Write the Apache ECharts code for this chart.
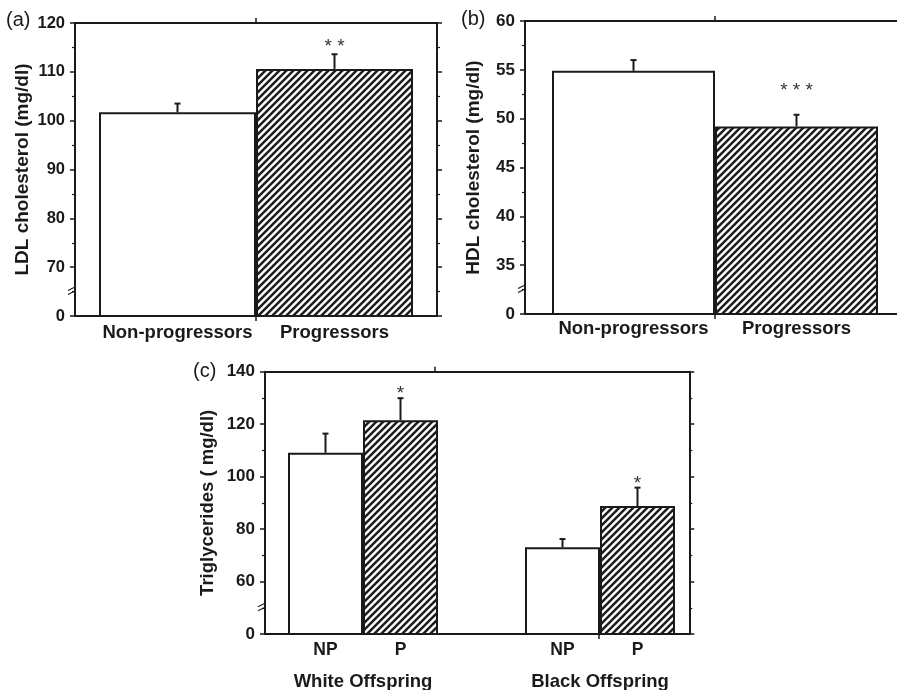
<!DOCTYPE html>
<html>
<head>
<meta charset="utf-8">
<script src="https://cdn.jsdelivr.net/npm/echarts@6/dist/echarts.min.js"></script>
<style>html,body{margin:0;padding:0;background:#fff}#c{width:897px;height:690px}</style>
</head>
<body>
<div id="c"></div>
<script>
// ---------- Panel (a): LDL cholesterol ----------
const groupsA = ['Non-progressors', 'Progressors'];
const meanA = [101.7, 110.6];
const semA = [1.8, 3.0];
const sigA = ['', '**'];
const yTicksA = ['0', '70', '80', '90', '100', '110', '120'];

// ---------- Panel (b): HDL cholesterol ----------
const groupsB = ['Non-progressors', 'Progressors'];
const meanB = [54.9, 49.2];
const semB = [1.1, 1.2];
const sigB = ['', '***'];
const yTicksB = ['0', '35', '40', '45', '50', '55', '60'];

// ---------- Panel (c): Triglycerides ----------
const groupsC = ['White Offspring', 'Black Offspring'];
const subC = ['NP', 'P'];
const npMeanC = [109.1, 73.1];
const npSemC = [7.3, 3.1];
const pMeanC = [121.5, 88.8];
const pSemC = [8.4, 7.0];
const sigC = ['*', '*'];
const yTicksC = ['0', '60', '80', '100', '120', '140'];

// broken-axis scales: the lowest tick stands for 0
const scaleA = {min: 60, max: 120, interval: 10};
const scaleB = {min: 30, max: 60, interval: 5};
const scaleC = {min: 40, max: 140, interval: 20};

const INK = '#1a1a1a';
const FONT = '"Liberation Sans", Arial, Helvetica, sans-serif';

function hatchCanvas() {
  const s = 7;
  const c = document.createElement('canvas');
  c.width = s; c.height = s;
  const g = c.getContext('2d');
  g.fillStyle = '#fff'; g.fillRect(0, 0, s, s);
  g.strokeStyle = '#1e1e1e'; g.lineWidth = 2.5; g.lineCap = 'square';
  g.beginPath();
  for (const o of [-s, 0, s]) { g.moveTo(o, s); g.lineTo(o + s, 0); }
  g.stroke();
  return c;
}
const HATCH = {image: hatchCanvas(), repeat: 'repeat'};

function frameX(grid, pos, tickVals) {
  return {
    type: 'value', gridIndex: grid, position: pos, min: 0, max: 1, interval: 1,
    axisLine: {show: true, onZero: false, lineStyle: {color: INK, width: 2}},
    axisTick: {show: true, customValues: tickVals, length: 5, lineStyle: {color: INK, width: 1.5}},
    axisLabel: {show: false}, splitLine: {show: false}
  };
}
function frameY(grid, pos, sc, labels, name, nameGap, fs, nameFs) {
  const left = pos === 'left';
  return {
    type: 'value', gridIndex: grid, position: pos, min: sc.min, max: sc.max, interval: sc.interval,
    name: left ? name : '', nameLocation: 'middle', nameGap: nameGap, nameRotate: 90,
    nameTextStyle: {fontFamily: FONT, fontWeight: 'bold', fontSize: nameFs, color: INK},
    axisLine: {show: true, onZero: false, lineStyle: {color: INK, width: 2}},
    axisTick: {show: true, inside: false, length: 5, lineStyle: {color: INK, width: 1.5}},
    minorTick: {show: true, splitNumber: 2, length: 3, lineStyle: {color: INK, width: 1.2}},
    axisLabel: {
      show: left, margin: 10, fontFamily: FONT, fontWeight: 'bold', fontSize: fs, color: INK,
      formatter: v => { const i = Math.round((v - sc.min) / sc.interval); return labels[i] != null ? labels[i] : ''; }
    },
    splitLine: {show: false}, minorSplitLine: {show: false}
  };
}
function hiddenCat(grid, data) {
  return {type: 'category', gridIndex: grid, data: data, show: false};
}

function errSeries(xi, yi, items, labels, sigs, barW, nSub, yMin, labelDy, labelFs, starLift) {
  return {
    type: 'custom', xAxisIndex: xi, yAxisIndex: yi, z: 5, clip: false,
    encode: {x: 0, y: 2},
    data: items,
    renderItem: function (params, api) {
      const c = api.value(0), s = api.value(1), m = api.value(2), e = api.value(3);
      const off = (s - (nSub - 1) / 2) * barW;
      const p0 = api.coord([c, m]);
      const p1 = api.coord([c, m + e]);
      const pb = api.coord([c, yMin]);
      const x = p0[0] + off;
      const children = [
        {type: 'line', shape: {x1: x, y1: p0[1], x2: x, y2: p1[1]}, style: {stroke: INK, lineWidth: 2}},
        {type: 'line', shape: {x1: x - 3, y1: p1[1], x2: x + 3, y2: p1[1]}, style: {stroke: INK, lineWidth: 2}}
      ];
      const lab = labels[params.dataIndex];
      if (lab) children.push({type: 'text', style: {text: lab, x: x, y: pb[1] + labelDy, align: 'center', verticalAlign: 'middle',
        fontFamily: FONT, fontWeight: 'bold', fontSize: labelFs, fill: INK}});
      const sg = sigs[params.dataIndex];
      if (sg) children.push({type: 'text', style: {text: sg.split('').join(' '), x: x, y: p1[1] - starLift, align: 'center', verticalAlign: 'middle',
        fontFamily: FONT, fontSize: 19, fill: '#333'}});
      return {type: 'group', children: children};
    }
  };
}

const itemsA = groupsA.map((g, i) => [0, i, meanA[i], semA[i]]);
const itemsB = groupsB.map((g, i) => [0, i, meanB[i], semB[i]]);
const itemsC = [], labelsC = [], sigsC = [];
groupsC.forEach((g, gi) => {
  itemsC.push([gi, 0, npMeanC[gi], npSemC[gi]]); labelsC.push(subC[0]); sigsC.push('');
  itemsC.push([gi, 1, pMeanC[gi], pSemC[gi]]); labelsC.push(subC[1]); sigsC.push(sigC[gi]);
});

const whiteBar = {color: '#fff', borderColor: INK, borderWidth: 2};
const hatchBar = {color: HATCH, borderColor: INK, borderWidth: 2};

const option = {
  animation: false,
  backgroundColor: '#fff',
  grid: [
    {left: 75, top: 23, width: 362, height: 293, outerBoundsMode: 'none'},
    {left: 525, top: 21, width: 380, height: 293, outerBoundsMode: 'none'},
    {left: 265, top: 371.7, width: 424.3, height: 262.3, outerBoundsMode: 'none'},
    {left: 244.5, top: 371.7, width: 474, height: 262.3, outerBoundsMode: 'none'}
  ],
  xAxis: [
    frameX(0, 'bottom', [0.5]), frameX(0, 'top', [0.5]), hiddenCat(0, ['']),
    frameX(1, 'bottom', [0.5]), frameX(1, 'top', [0.5]), hiddenCat(1, ['']),
    frameX(2, 'bottom', [0.786]), frameX(2, 'top', [0.4]),
    {type: 'category', gridIndex: 3, position: 'bottom', data: groupsC,
      axisLine: {show: false}, axisTick: {show: false}, splitLine: {show: false},
      axisLabel: {margin: 38, fontFamily: FONT, fontWeight: 'bold', fontSize: 18.5, color: INK}}
  ],
  yAxis: [
    frameY(0, 'left', scaleA, yTicksA, 'LDL cholesterol (mg/dl)', 43, 16.5, 19),
    frameY(0, 'right', scaleA, yTicksA, '', 0, 16, 18),
    frameY(1, 'left', scaleB, yTicksB, 'HDL cholesterol (mg/dl)', 42, 17, 19),
    frameY(1, 'right', scaleB, yTicksB, '', 0, 16, 18),
    frameY(2, 'left', scaleC, yTicksC, 'Triglycerides ( mg/dl)', 48, 17, 18.5),
    frameY(2, 'right', scaleC, yTicksC, '', 0, 16, 18),
    {type: 'value', gridIndex: 3, min: scaleC.min, max: scaleC.max, interval: scaleC.interval, show: false}
  ],
  graphic: [
    {type: 'text', left: 6, top: 10, style: {text: '(a)', fontFamily: FONT, fontSize: 20, fill: INK}},
    {type: 'text', left: 461, top: 9, style: {text: '(b)', fontFamily: FONT, fontSize: 20, fill: INK}},
    {type: 'text', left: 193, top: 361, style: {text: '(c)', fontFamily: FONT, fontSize: 20, fill: INK}}
  ],
  series: [
    {type: 'bar', name: groupsA[0], xAxisIndex: 2, yAxisIndex: 0, data: [meanA[0]], barWidth: 157, barGap: '0%', itemStyle: whiteBar},
    {type: 'bar', name: groupsA[1], xAxisIndex: 2, yAxisIndex: 0, data: [meanA[1]], barWidth: 157, barGap: '0%', itemStyle: hatchBar},
    errSeries(2, 0, itemsA, groupsA, sigA, 157, 2, scaleA.min, 17, 18.5, 7),
    {type: 'bar', name: groupsB[0], xAxisIndex: 5, yAxisIndex: 2, data: [meanB[0]], barWidth: 163, barGap: '0%', itemStyle: whiteBar},
    {type: 'bar', name: groupsB[1], xAxisIndex: 5, yAxisIndex: 2, data: [meanB[1]], barWidth: 163, barGap: '0%', itemStyle: hatchBar},
    errSeries(5, 2, itemsB, groupsB, sigB, 163, 2, scaleB.min, 15, 18.5, 24),
    {type: 'bar', name: subC[0], xAxisIndex: 8, yAxisIndex: 6, data: npMeanC, barWidth: 75, barGap: '0%', itemStyle: whiteBar},
    {type: 'bar', name: subC[1], xAxisIndex: 8, yAxisIndex: 6, data: pMeanC, barWidth: 75, barGap: '0%', itemStyle: hatchBar},
    errSeries(8, 6, itemsC, labelsC, sigsC, 75, 2, scaleC.min, 16, 17.5, 4)
  ]
};

const chart = echarts.init(document.getElementById('c'), null, {renderer: 'canvas'});
chart.setOption(option);

// axis-break marks on the left axes, halfway between "0" and the first labelled tick
const breaks = [
  {xi: 0, yi: 0, sc: scaleA},
  {xi: 3, yi: 2, sc: scaleB},
  {xi: 6, yi: 4, sc: scaleC}
];
const marks = [];
breaks.forEach(b => {
  const p = chart.convertToPixel({xAxisIndex: b.xi, yAxisIndex: b.yi}, [0, b.sc.min + b.sc.interval / 2]);
  const X = p[0], Y = p[1];
  marks.push({type: 'line', shape: {x1: X - 7, y1: Y - 1, x2: X - 1, y2: Y - 4}, style: {stroke: INK, lineWidth: 1.2}});
  marks.push({type: 'line', shape: {x1: X - 7, y1: Y + 3, x2: X - 1, y2: Y}, style: {stroke: INK, lineWidth: 1.2}});
});
chart.setOption({graphic: option.graphic.concat(marks)});
</script>
</body>
</html>
